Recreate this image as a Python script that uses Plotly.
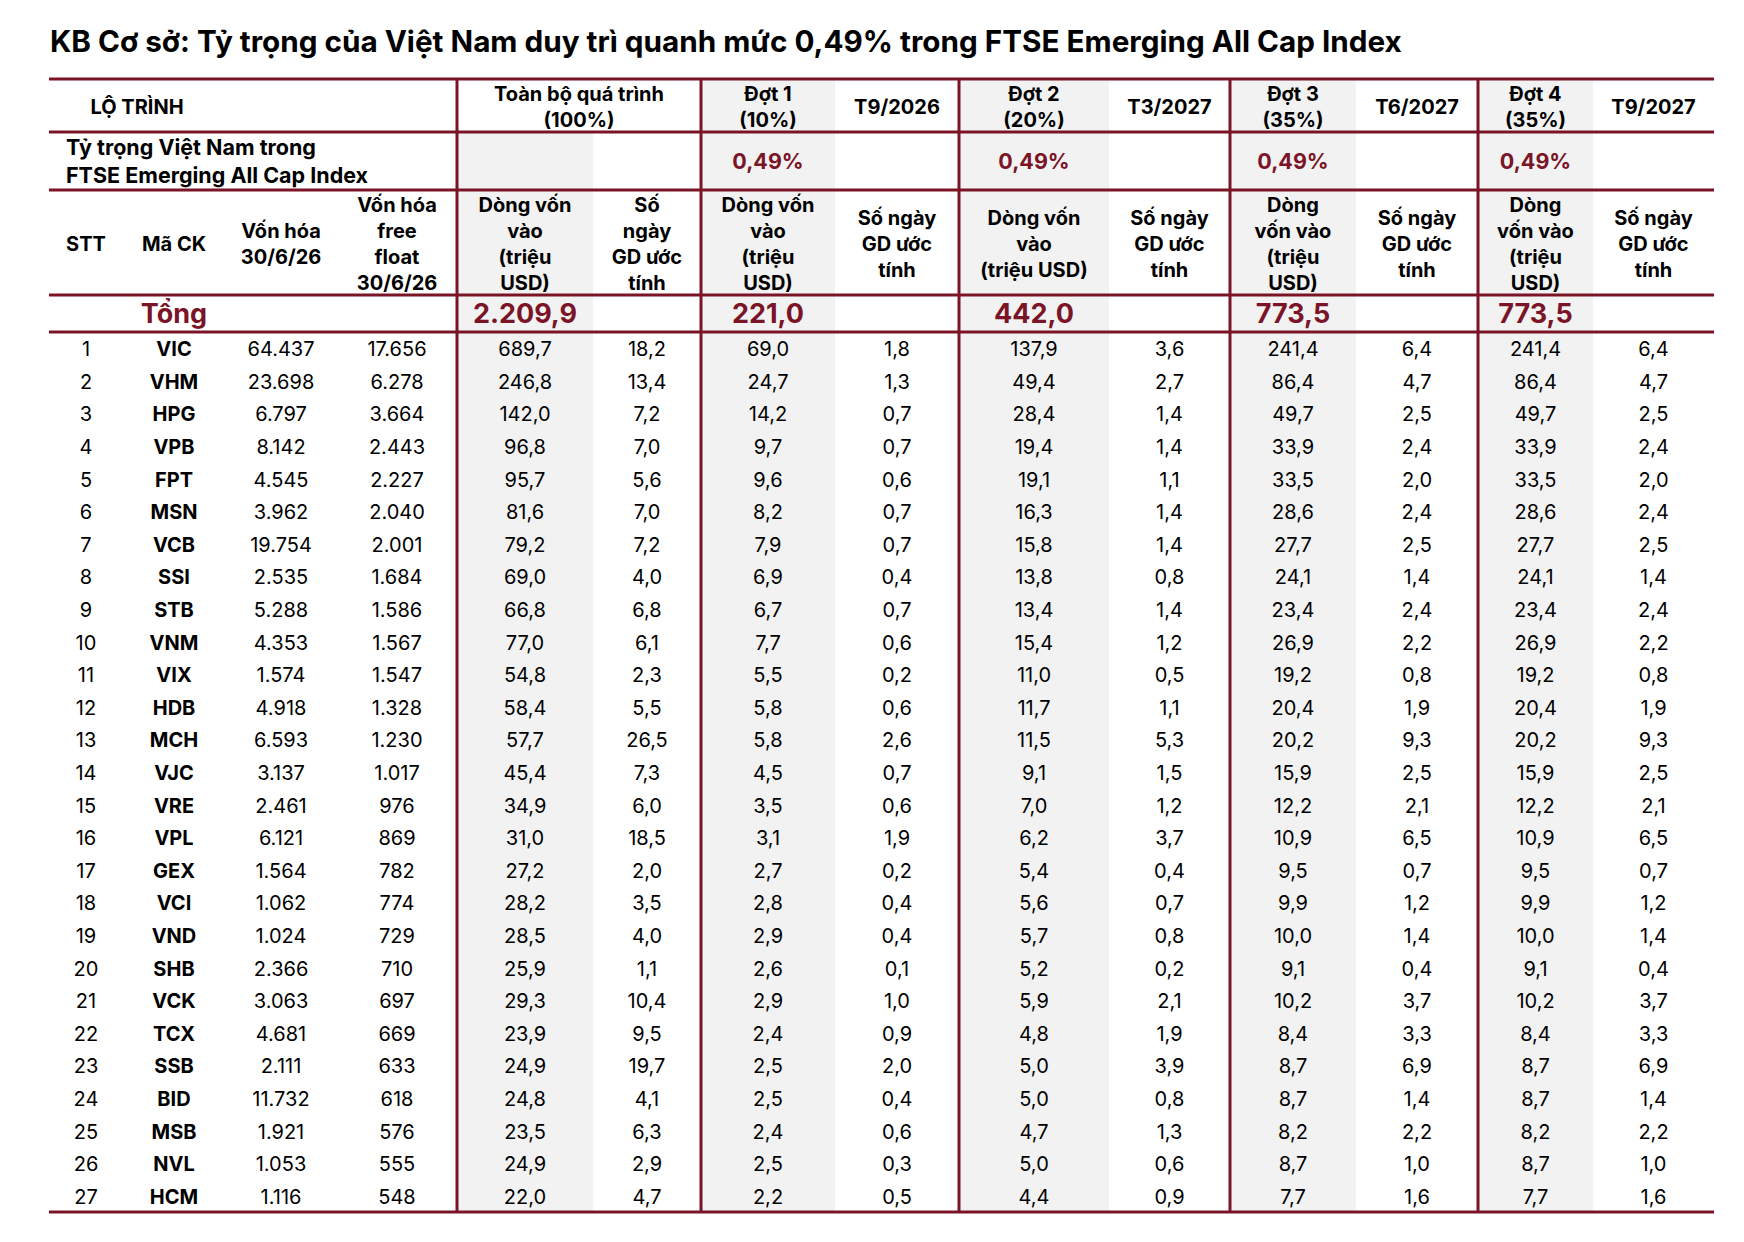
import plotly.graph_objects as go

# ---------------- data ----------------
stt = list(range(1, 28))
ma_ck = ["VIC", "VHM", "HPG", "VPB", "FPT", "MSN", "VCB", "SSI", "STB", "VNM",
         "VIX", "HDB", "MCH", "VJC", "VRE", "VPL", "GEX", "VCI", "VND", "SHB",
         "VCK", "TCX", "SSB", "BID", "MSB", "NVL", "HCM"]
von_hoa = [64437, 23698, 6797, 8142, 4545, 3962, 19754, 2535, 5288, 4353,
           1574, 4918, 6593, 3137, 2461, 6121, 1564, 1062, 1024, 2366,
           3063, 4681, 2111, 11732, 1921, 1053, 1116]
free_float = [17656, 6278, 3664, 2443, 2227, 2040, 2001, 1684, 1586, 1567,
              1547, 1328, 1230, 1017, 976, 869, 782, 774, 729, 710,
              697, 669, 633, 618, 576, 555, 548]
tong_dong = [689.7, 246.8, 142.0, 96.8, 95.7, 81.6, 79.2, 69.0, 66.8, 77.0,
             54.8, 58.4, 57.7, 45.4, 34.9, 31.0, 27.2, 28.2, 28.5, 25.9,
             29.3, 23.9, 24.9, 24.8, 23.5, 24.9, 22.0]
tong_ngay = [18.2, 13.4, 7.2, 7.0, 5.6, 7.0, 7.2, 4.0, 6.8, 6.1,
             2.3, 5.5, 26.5, 7.3, 6.0, 18.5, 2.0, 3.5, 4.0, 1.1,
             10.4, 9.5, 19.7, 4.1, 6.3, 2.9, 4.7]
dot1_dong = [69.0, 24.7, 14.2, 9.7, 9.6, 8.2, 7.9, 6.9, 6.7, 7.7,
             5.5, 5.8, 5.8, 4.5, 3.5, 3.1, 2.7, 2.8, 2.9, 2.6,
             2.9, 2.4, 2.5, 2.5, 2.4, 2.5, 2.2]
dot1_ngay = [1.8, 1.3, 0.7, 0.7, 0.6, 0.7, 0.7, 0.4, 0.7, 0.6,
             0.2, 0.6, 2.6, 0.7, 0.6, 1.9, 0.2, 0.4, 0.4, 0.1,
             1.0, 0.9, 2.0, 0.4, 0.6, 0.3, 0.5]
dot2_dong = [137.9, 49.4, 28.4, 19.4, 19.1, 16.3, 15.8, 13.8, 13.4, 15.4,
             11.0, 11.7, 11.5, 9.1, 7.0, 6.2, 5.4, 5.6, 5.7, 5.2,
             5.9, 4.8, 5.0, 5.0, 4.7, 5.0, 4.4]
dot2_ngay = [3.6, 2.7, 1.4, 1.4, 1.1, 1.4, 1.4, 0.8, 1.4, 1.2,
             0.5, 1.1, 5.3, 1.5, 1.2, 3.7, 0.4, 0.7, 0.8, 0.2,
             2.1, 1.9, 3.9, 0.8, 1.3, 0.6, 0.9]
dot3_dong = [241.4, 86.4, 49.7, 33.9, 33.5, 28.6, 27.7, 24.1, 23.4, 26.9,
             19.2, 20.4, 20.2, 15.9, 12.2, 10.9, 9.5, 9.9, 10.0, 9.1,
             10.2, 8.4, 8.7, 8.7, 8.2, 8.7, 7.7]
dot3_ngay = [6.4, 4.7, 2.5, 2.4, 2.0, 2.4, 2.5, 1.4, 2.4, 2.2,
             0.8, 1.9, 9.3, 2.5, 2.1, 6.5, 0.7, 1.2, 1.4, 0.4,
             3.7, 3.3, 6.9, 1.4, 2.2, 1.0, 1.6]
dot4_dong = [241.4, 86.4, 49.7, 33.9, 33.5, 28.6, 27.7, 24.1, 23.4, 26.9,
             19.2, 20.4, 20.2, 15.9, 12.2, 10.9, 9.5, 9.9, 10.0, 9.1,
             10.2, 8.4, 8.7, 8.7, 8.2, 8.7, 7.7]
dot4_ngay = [6.4, 4.7, 2.5, 2.4, 2.0, 2.4, 2.5, 1.4, 2.4, 2.2,
             0.8, 1.9, 9.3, 2.5, 2.1, 6.5, 0.7, 1.2, 1.4, 0.4,
             3.7, 3.3, 6.9, 1.4, 2.2, 1.0, 1.6]

tong_values = [2209.9, 221.0, 442.0, 773.5, 773.5]   # Toàn bộ, Đợt 1..4
ty_trong = [0.49, 0.49, 0.49, 0.49]                 # Đợt 1..4
dot_names = ["Đợt 1<br>(10%)", "Đợt 2<br>(20%)", "Đợt 3<br>(35%)", "Đợt 4<br>(35%)"]
dot_months = ["T9/2026", "T3/2027", "T6/2027", "T9/2027"]

title = "KB Cơ sở: Tỷ trọng của Việt Nam duy trì quanh mức 0,49% trong FTSE Emerging All Cap Index"
col_headers = ["STT", "Mã CK", "Vốn hóa<br>30/6/26", "Vốn hóa<br>free<br>float<br>30/6/26",
               "Dòng vốn<br>vào<br>(triệu<br>USD)", "Số<br>ngày<br>GD ước<br>tính",
               "Dòng vốn<br>vào<br>(triệu<br>USD)", "Số ngày<br>GD ước<br>tính",
               "Dòng vốn<br>vào<br>(triệu USD)", "Số ngày<br>GD ước<br>tính",
               "Dòng<br>vốn vào<br>(triệu<br>USD)", "Số ngày<br>GD ước<br>tính",
               "Dòng<br>vốn vào<br>(triệu<br>USD)", "Số ngày<br>GD ước<br>tính"]

# ---------------- layout constants ----------------
W, H = 1744, 1242
PAD = 8          # page body margin, compensated in the axis ranges
DY = 3           # plotly puts "middle" text a bit high
RED = "#7a1426"
GREY = "#f2f2f2"
FONT = "Inter, Roboto, sans-serif"
edges = [49, 123, 225, 337, 457, 593, 701, 835, 959, 1109, 1230, 1356, 1478, 1593, 1714]
hlines = [79, 132, 190, 295, 332, 1212]   # table rules
data_top, data_bot = hlines[4], hlines[5]
row_h = (data_bot - data_top) / len(stt)
centers = [(a + b) / 2 for a, b in zip(edges[:-1], edges[1:])]
group_cols = [4, 6, 8, 10, 12]   # first column of each group (Dòng vốn)


def vn(v, d=1):
    s = f"{v:,.{d}f}"
    return s.replace(",", "#").replace(".", ",").replace("#", ".")


def mid(a, b):
    return (a + b) / 2 + DY


row_y = [data_top + (i + 0.5) * row_h + DY for i in range(len(stt))]

fig = go.Figure()


def add_text(x, y, text, size=20, color="black", weight=400, pos="middle center"):
    fig.add_trace(go.Scatter(
        x=x, y=y, text=text, mode="text", textposition=pos,
        textfont=dict(family=FONT, size=size, color=color, weight=weight),
        hoverinfo="skip", showlegend=False, cliponaxis=False))


# body columns
columns = [
    ([str(v) for v in stt], 400),
    (ma_ck, 700),
    ([vn(v, 0) for v in von_hoa], 400),
    ([vn(v, 0) for v in free_float], 400),
    ([vn(v) for v in tong_dong], 400),
    ([vn(v) for v in tong_ngay], 400),
    ([vn(v) for v in dot1_dong], 400),
    ([vn(v) for v in dot1_ngay], 400),
    ([vn(v) for v in dot2_dong], 400),
    ([vn(v) for v in dot2_ngay], 400),
    ([vn(v) for v in dot3_dong], 400),
    ([vn(v) for v in dot3_ngay], 400),
    ([vn(v) for v in dot4_dong], 400),
    ([vn(v) for v in dot4_ngay], 400),
]
for j, (vals, w) in enumerate(columns):
    add_text([centers[j]] * len(vals), row_y, vals, size=20, weight=w)

# Tổng row
ty = mid(hlines[3], hlines[4])
add_text([centers[1]], [ty], ["Tổng"], size=27, color=RED, weight=700)
add_text([centers[c] for c in group_cols], [ty] * 5, [vn(v) for v in tong_values],
         size=27, color=RED, weight=700)

# column header row
hy = mid(hlines[2], hlines[3])
add_text(centers, [hy] * len(col_headers), col_headers, size=20, weight=700)

# row 1: lộ trình
r1 = mid(hlines[0], hlines[1])
add_text([(edges[0] + edges[2]) / 2], [r1], ["LỘ TRÌNH"], size=20, weight=700)
add_text([(edges[4] + edges[6]) / 2], [r1], ["Toàn bộ quá trình<br>(100%)"], size=20, weight=700)
add_text([centers[c] for c in group_cols[1:]], [r1] * 4, dot_names, size=20, weight=700)
add_text([centers[c + 1] for c in group_cols[1:]], [r1] * 4, dot_months, size=20, weight=700)

# row 2: tỷ trọng
r2 = mid(hlines[1], hlines[2])
add_text([edges[0] + 17], [r2], ["Tỷ trọng Việt Nam trong<br>FTSE Emerging All Cap Index"],
         size=21.5, weight=700, pos="middle right")
add_text([centers[c] for c in group_cols[1:]], [r2] * 4, [vn(v, 2) + "%" for v in ty_trong],
         size=21.5, color=RED, weight=700)

# shading
shapes = []
for k, c in enumerate(group_cols):
    shapes.append(dict(type="rect", layer="below", line_width=0, fillcolor=GREY,
                       x0=edges[c], x1=edges[c + 1],
                       y0=hlines[1] if k == 0 else hlines[0], y1=hlines[5]))
# rules
for y in hlines:
    shapes.append(dict(type="line", x0=edges[0], x1=edges[-1], y0=y, y1=y,
                       line=dict(color=RED, width=3)))
for c in group_cols:
    shapes.append(dict(type="line", x0=edges[c], x1=edges[c], y0=hlines[0], y1=hlines[-1],
                       line=dict(color=RED, width=3)))

fw, fh = W - 2 * PAD, H - 2 * PAD
fig.update_layout(
    width=fw, height=fh, margin=dict(l=0, r=0, t=0, b=0),
    paper_bgcolor="white", plot_bgcolor="white",
    xaxis=dict(range=[PAD, W - PAD], visible=False, fixedrange=True),
    yaxis=dict(range=[H - PAD, PAD], visible=False, fixedrange=True),
    shapes=shapes,
    title=dict(text=title, x=(50 - PAD) / fw, xanchor="left",
               y=1 - (42 - PAD) / fh, yanchor="middle",
               font=dict(family=FONT, size=29.7, color="black", weight=700)),
)

fig.write_html("out.html")
